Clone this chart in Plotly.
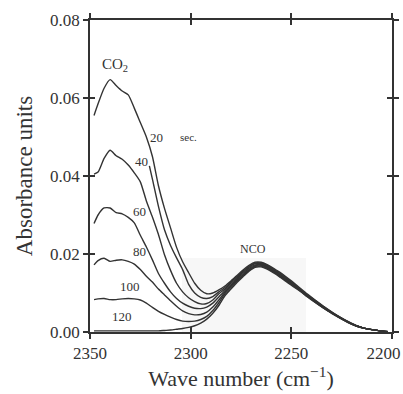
import plotly.graph_objects as go

# wave numbers (cm^-1) shared by the full curves
wn = [2348, 2346, 2343, 2340, 2337, 2334, 2331, 2328, 2325, 2322, 2319, 2316,
      2313, 2310, 2307, 2304, 2301, 2298, 2295, 2292, 2289, 2286,
      2283, 2280, 2277, 2274, 2271, 2268, 2265, 2262, 2259, 2256, 2253, 2250,
      2246, 2242, 2238, 2234, 2230, 2226, 2222, 2218, 2214, 2210, 2206, 2202]

abs_20 = [0.0555, 0.0585, 0.0625, 0.0647, 0.0632, 0.0618, 0.0608, 0.0574, 0.0537, 0.0500, 0.0450, 0.0375,
          0.0317, 0.0267, 0.0217, 0.0180, 0.0152, 0.0125, 0.0107, 0.0098, 0.0100, 0.0108,
          0.0118, 0.0131, 0.0145, 0.0159, 0.0171, 0.0179, 0.0179, 0.0173, 0.0164, 0.0154, 0.0143, 0.0131,
          0.0114, 0.0097, 0.0081, 0.0066, 0.0052, 0.0039, 0.0027, 0.0017, 0.0010, 0.0006, 0.0003, 0.0001]

abs_40 = [0.0405, 0.0410, 0.0445, 0.0466, 0.0452, 0.0443, 0.0428, 0.0408, 0.0385, 0.0336, 0.0295, 0.0250,
          0.0198, 0.0158, 0.0125, 0.0103, 0.0088, 0.0078, 0.0072, 0.0073, 0.0082, 0.0098,
          0.0110, 0.0125, 0.0139, 0.0153, 0.0166, 0.0175, 0.0175, 0.0169, 0.0160, 0.0150, 0.0139, 0.0127,
          0.0111, 0.0094, 0.0079, 0.0064, 0.0050, 0.0038, 0.0026, 0.0017, 0.0010, 0.0006, 0.0003, 0.0001]

abs_60 = [0.0278, 0.0300, 0.0318, 0.0318, 0.0306, 0.0303, 0.0294, 0.0280, 0.0248, 0.0218, 0.0185, 0.0150,
          0.0125, 0.0103, 0.0086, 0.0074, 0.0066, 0.0061, 0.0060, 0.0064, 0.0074, 0.0090,
          0.0106, 0.0121, 0.0136, 0.0150, 0.0163, 0.0172, 0.0173, 0.0167, 0.0158, 0.0148, 0.0137, 0.0126,
          0.0110, 0.0093, 0.0078, 0.0063, 0.0050, 0.0037, 0.0026, 0.0016, 0.0010, 0.0006, 0.0003, 0.0001]

abs_80 = [0.0172, 0.0183, 0.0189, 0.0181, 0.0184, 0.0185, 0.0181, 0.0174, 0.0160, 0.0143, 0.0128, 0.0110,
          0.0095, 0.0080, 0.0066, 0.0054, 0.0047, 0.0044, 0.0045, 0.0051, 0.0064, 0.0082,
          0.0102, 0.0118, 0.0133, 0.0147, 0.0160, 0.0170, 0.0171, 0.0165, 0.0156, 0.0146, 0.0135, 0.0124,
          0.0108, 0.0092, 0.0077, 0.0062, 0.0049, 0.0037, 0.0026, 0.0016, 0.0010, 0.0006, 0.0003, 0.0001]

abs_100 = [0.0083, 0.0085, 0.0086, 0.0083, 0.0083, 0.0085, 0.0086, 0.0085, 0.0082, 0.0074, 0.0063, 0.0053,
           0.0045, 0.0038, 0.0032, 0.0028, 0.0027, 0.0028, 0.0032, 0.0040, 0.0055, 0.0075,
           0.0098, 0.0114, 0.0130, 0.0145, 0.0158, 0.0168, 0.0169, 0.0163, 0.0154, 0.0144, 0.0133, 0.0122,
           0.0107, 0.0091, 0.0076, 0.0062, 0.0049, 0.0036, 0.0025, 0.0016, 0.0010, 0.0006, 0.0003, 0.0001]

abs_120 = [0.0003, 0.0003, 0.0003, 0.0003, 0.0003, 0.0003, 0.0003, 0.0003, 0.0003, 0.0003, 0.0003, 0.0003,
           0.0004, 0.0005, 0.0007, 0.0009, 0.0012, 0.0016, 0.0023, 0.0033, 0.0048, 0.0068,
           0.0093, 0.0110, 0.0127, 0.0142, 0.0156, 0.0166, 0.0167, 0.0161, 0.0152, 0.0142, 0.0131, 0.0120,
           0.0106, 0.0090, 0.0075, 0.0061, 0.0048, 0.0036, 0.0025, 0.0016, 0.0010, 0.0006, 0.0003, 0.0001]

# short, unlabeled curve segment that appears beside the "40" label
wn_b = [2320.5, 2319, 2316, 2313, 2310, 2307, 2304, 2301, 2298, 2295, 2292, 2289, 2286,
        2283, 2280, 2277, 2274, 2271, 2268, 2265, 2262, 2259, 2256, 2253, 2250,
        2246, 2242, 2238, 2234, 2230, 2226, 2222, 2218, 2214, 2210, 2206, 2202]
abs_b = [0.0426, 0.0392, 0.0322, 0.0262, 0.0222, 0.0190, 0.0160, 0.0122, 0.0100, 0.0089, 0.0086, 0.0091, 0.0103,
         0.0114, 0.0128, 0.0142, 0.0156, 0.0168, 0.0177, 0.0177, 0.0171, 0.0162, 0.0152, 0.0141, 0.0129,
         0.0112, 0.0095, 0.0080, 0.0065, 0.0051, 0.0038, 0.0027, 0.0017, 0.0010, 0.0006, 0.0003, 0.0001]

series = {"20": abs_20, "40": abs_40, "60": abs_60, "80": abs_80, "100": abs_100, "120": abs_120}

# curve labels (text, wave number, absorbance)
labels = [("20", 2317.0, 0.0500), ("40", 2324.6, 0.0437), ("60", 2325.4, 0.0310),
          ("80", 2325.4, 0.0206), ("100", 2330.3, 0.0116), ("120", 2334.3, 0.0039)]

x_ticks = [2350, 2300, 2250, 2200]
x_ticklabels = ["2350", "2300", "2250", "2200\u00a0\u00a0\u00a0\u00a0"]
y_ticks = [0.00, 0.02, 0.04, 0.06, 0.08]
y_ticklabels = ["0.00", "0.02", "0.04", "0.06", "0.08"]

LINE = "#333333"
FONT = "Liberation Serif"

fig = go.Figure()
for name, vals in series.items():
    fig.add_trace(go.Scatter(x=wn, y=vals, mode="lines", name=name,
                             line=dict(color=LINE, width=1.4, shape="spline", smoothing=0.6),
                             showlegend=False, hoverinfo="skip"))
fig.add_trace(go.Scatter(x=wn_b, y=abs_b, mode="lines", name="b",
                         line=dict(color=LINE, width=1.4, shape="spline", smoothing=0.6),
                         showlegend=False, hoverinfo="skip"))
# single-point lines (draw nothing) so each overlay tick axis is rendered
for k in (2, 3, 4):
    fig.add_trace(go.Scatter(x=[wn[-1]], y=[abs_20[-1]], mode="lines", xaxis=f"x{k}", yaxis=f"y{k}",
                             line=dict(color=LINE, width=1.4), showlegend=False, hoverinfo="skip"))

for txt, xv, yv in labels:
    fig.add_annotation(x=xv, y=yv, text=txt, showarrow=False,
                       font=dict(family=FONT, size=13, color="#333"))
fig.add_annotation(x=2301, y=0.0500, text="sec.", showarrow=False,
                   font=dict(family=FONT, size=11, color="#333"))
fig.add_annotation(x=2337.7, y=0.0684, text="CO<sub>2</sub>", showarrow=False,
                   font=dict(family=FONT, size=15, color="#333"))
fig.add_annotation(x=2268.9, y=0.0212, text="NCO", showarrow=False,
                   font=dict(family=FONT, size=12, color="#333"))

# faint grey patch visible in the scanned original
fig.add_shape(type="rect", xref="paper", yref="paper", x0=0.305, x1=0.715, y0=0.0, y1=0.237,
              fillcolor="#f7f7f7", line=dict(width=0), layer="below")

tick_common = dict(showgrid=False, zeroline=False, linecolor=LINE, linewidth=1.5,
                   tickcolor=LINE, tickwidth=1.5, ticklen=5, automargin=False)
xr = [2350, 2200]
yr = [0, 0.08]

fig.update_layout(
    width=403, height=394, autosize=False,
    margin=dict(l=90, r=11, t=20, b=62),
    paper_bgcolor="white", plot_bgcolor="white",
    font=dict(family=FONT, color="#333"),
    xaxis=dict(range=xr, tickvals=x_ticks, ticktext=x_ticklabels, showline=True,
               ticks="outside", tickfont=dict(size=17, family=FONT), ticklabeloverflow="allow",
               title=dict(text="Wave number (cm<sup>−1</sup>)", font=dict(size=22, family=FONT), standoff=2),
               **tick_common),
    yaxis=dict(range=yr, tickvals=y_ticks, ticktext=y_ticklabels, showline=True,
               ticks="outside", tickfont=dict(size=17, family=FONT),
               title=dict(text="Absorbance units", font=dict(size=23, family=FONT), standoff=11),
               **tick_common),
    xaxis2=dict(range=xr, tickvals=x_ticks, ticks="inside", showticklabels=False, showline=False,
                overlaying="x", anchor="y", side="bottom", **tick_common),
    yaxis2=dict(range=yr, tickvals=y_ticks, ticks="inside", showticklabels=False, showline=False,
                overlaying="y", anchor="x", side="left", **tick_common),
    xaxis3=dict(range=xr, tickvals=x_ticks, ticks="outside", showticklabels=False, showline=True,
                overlaying="x", anchor="y", side="top", **tick_common),
    yaxis3=dict(range=yr, tickvals=y_ticks, ticks="outside", showticklabels=False, showline=True,
                overlaying="y", anchor="x", side="right", **tick_common),
    xaxis4=dict(range=xr, tickvals=x_ticks, ticks="inside", showticklabels=False, showline=False,
                overlaying="x", anchor="y", side="top", **tick_common),
    yaxis4=dict(range=yr, tickvals=y_ticks, ticks="inside", showticklabels=False, showline=False,
                overlaying="y", anchor="x", side="right", **tick_common),
)

fig.write_html("out.html",
               config={"displayModeBar": False, "responsive": False},
               post_script="document.documentElement.style.overflow='hidden';document.body.style.margin='0';document.body.style.overflow='hidden';")
